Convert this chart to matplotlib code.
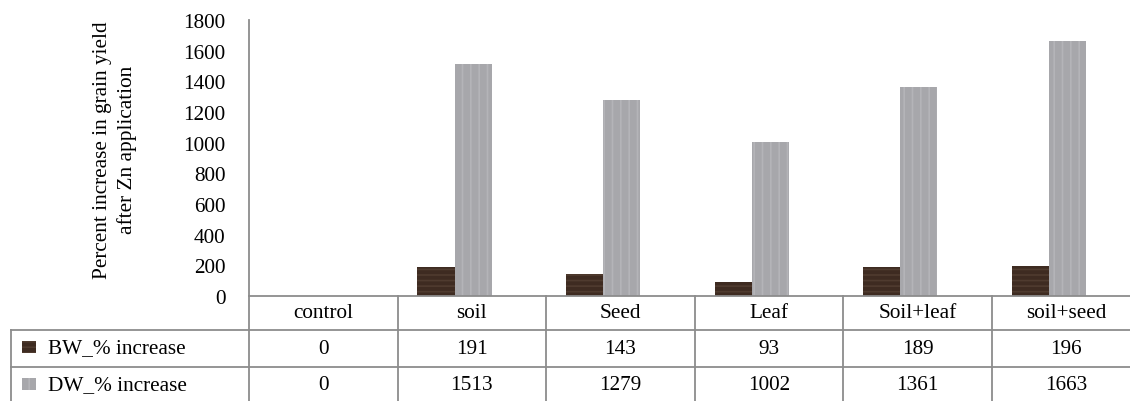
import matplotlib
matplotlib.use("Agg")
import matplotlib.pyplot as plt
from matplotlib.patches import Rectangle
from matplotlib.transforms import blended_transform_factory

# Grain yield increase after Zn application, by application method
categories = ["control", "soil", "Seed", "Leaf", "Soil+leaf", "soil+seed"]
series_names = ["BW_% increase", "DW_% increase"]
bw_increase = [0, 191, 143, 93, 189, 196]
dw_increase = [0, 1513, 1279, 1002, 1361, 1663]
y_ticks = [0, 200, 400, 600, 800, 1000, 1200, 1400, 1600, 1800]

W, H = 1130, 402
FONT = "Liberation Serif"
FS = 15.3
GRID = "#8c8c8c"
BW_COLOR, BW_STREAK = "#3e2b21", "#4f3b2f"
DW_COLOR, DW_STREAK = "#a7a7ab", "#b4b4b8"

plt.rcParams["font.family"] = FONT
plt.rcParams["hatch.linewidth"] = 1.2

fig = plt.figure(figsize=(W / 100, H / 100), dpi=100)

# plot area in pixels (right edge runs past the figure)
ax_l, ax_r, ax_t, ax_b = 249, 1140.6, 21, 297
ax = fig.add_axes([ax_l / W, 1 - ax_b / H, (ax_r - ax_l) / W, (ax_b - ax_t) / H])
ax.set_xlim(-0.5, len(categories) - 0.5)
ax.set_ylim(0, 1800)

x = list(range(len(categories)))
bar_w = 0.25
ax.bar([i - 0.242 for i in x], bw_increase, width=bar_w, color=BW_COLOR,
       edgecolor=BW_STREAK, linewidth=0, hatch="---", zorder=2)
ax.bar([i + 0.008 for i in x], dw_increase, width=bar_w, color=DW_COLOR,
       edgecolor=DW_STREAK, linewidth=0, hatch="||", zorder=2)

for s in ["top", "right"]:
    ax.spines[s].set_visible(False)
for s in ["left", "bottom"]:
    ax.spines[s].set_color(GRID)
    ax.spines[s].set_linewidth(1.3)
ax.set_yticks(y_ticks)
ax.set_yticklabels([str(t) for t in y_ticks], fontsize=FS)
ax.tick_params(axis="y", length=0, pad=17)
ax.set_xticks([])

fig.text(115 / W, 1 - 150 / H, "Percent increase in grain yield\nafter Zn application",
         rotation=90, ha="center", va="center", multialignment="center",
         fontsize=FS, linespacing=1.3)

# data table under the axis
ah = ax_b - ax_t
def fy(px):
    return -(px - ax_b) / ah

tr = blended_transform_factory(ax.transData, ax.transAxes)
tr_ax = ax.transAxes
row1, row2, bottom = 331, 368, 410
line_kw = dict(color=GRID, linewidth=1.3, clip_on=False)

left_px = 11
left_ax = (left_px - ax_l) / (ax_r - ax_l)
for yy in (row1, row2):
    ax.plot([left_ax, 1], [fy(yy), fy(yy)], transform=tr_ax, **line_kw)
ax.plot([left_ax, left_ax], [fy(row1), fy(bottom)], transform=tr_ax, **line_kw)
for i in range(len(categories) + 1):
    ax.plot([i - 0.5, i - 0.5], [0, fy(bottom)], transform=tr, **line_kw)

for i, c in enumerate(categories):
    ax.text(i, fy(314), c, transform=tr, ha="center", va="center", fontsize=FS)
    ax.text(i, fy(350), str(bw_increase[i]), transform=tr, ha="center", va="center", fontsize=FS)
    ax.text(i, fy(386), str(dw_increase[i]), transform=tr, ha="center", va="center", fontsize=FS)

# legend keys inside the table
key_x = (22 - ax_l) / (ax_r - ax_l)
key_w = 14 / (ax_r - ax_l)
key_h = 12 / ah
for ycen, name, col, streak, hatch in [(348, series_names[0], BW_COLOR, BW_STREAK, "---"),
                                       (385, series_names[1], DW_COLOR, DW_STREAK, "||")]:
    ax.add_patch(Rectangle((key_x, fy(ycen) - key_h / 2), key_w, key_h, transform=tr_ax,
                           facecolor=col, edgecolor=streak, linewidth=0, hatch=hatch,
                           clip_on=False))
    ax.text((48 - ax_l) / (ax_r - ax_l), fy(ycen + 1), name, transform=tr_ax,
            ha="left", va="center", fontsize=FS)

fig.savefig("out.png", dpi=100)
